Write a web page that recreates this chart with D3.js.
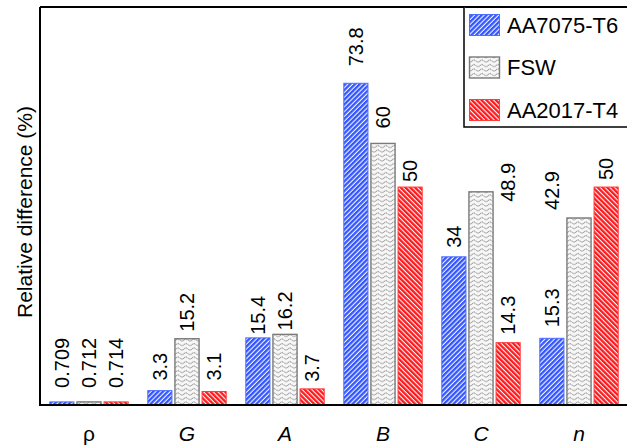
<!DOCTYPE html>
<html>
<head>
<meta charset="utf-8">
<script src="https://cdn.jsdelivr.net/npm/d3@7"></script>
<style>
  html, body { margin: 0; padding: 0; background: #fff; }
  svg { display: block; font-family: "Liberation Sans", Arial, sans-serif; }
</style>
</head>
<body>
<svg id="chart" width="627" height="445"></svg>
<script>
// Properties compared across the three material conditions
const categories = ["ρ", "G", "A", "B", "C", "n"];
const seriesNames = ["AA7075-T6", "FSW", "AA2017-T4"];

// Relative difference (%) per property
const aa7075 = [0.709, 3.3, 15.4, 73.8, 34, 15.3];
const fsw    = [0.712, 15.2, 16.2, 60, 48.9, 42.9];
const aa2017 = [0.714, 3.1, 3.7, 50, 14.3, 50];

const seriesValues = [aa7075, fsw, aa2017];

// Value label placement: column shift (in bars) and lift above the bar top (px)
const labelShift = [
  [0, 0, 0, 0, 0, 0],
  [0, 0, 0, 0, 1, -1],
  [0, 0, 0, 0, 0, 0]
];
const labelLift = [
  [14, 10, 3, 17, 9, 11],
  [14, 7, 4, 15, -10, 8],
  [14, 11, 7, 5, 8, 7]
];

const svg = d3.select("#chart");
const plotLeft = 40, plotTop = 7, plotBottom = 405, plotRight = 628;

const x0 = d3.scaleBand().domain(categories).range([plotLeft, plotRight])
  .paddingInner(0.2).paddingOuter(0.1);
const x1 = d3.scaleBand().domain(seriesNames).range([0, x0.bandwidth()])
  .paddingInner(0.11);
const y = d3.scaleLinear().domain([0, 91.3]).range([plotBottom, plotTop]);

// Fill patterns
const defs = svg.append("defs");
function stripes(id, color, angle) {
  const p = defs.append("pattern").attr("id", id)
    .attr("patternUnits", "userSpaceOnUse")
    .attr("width", 3.4).attr("height", 3.4)
    .attr("patternTransform", `rotate(${angle})`);
  p.append("rect").attr("width", 3.4).attr("height", 3.4).attr("fill", "#f4f6ff");
  p.append("rect").attr("width", 2.3).attr("height", 3.4).attr("fill", color);
}
stripes("pat-blue", "#3356ff", 45);
stripes("pat-red", "#ff1a1a", -45);
const wave = defs.append("pattern").attr("id", "pat-gray")
  .attr("patternUnits", "userSpaceOnUse")
  .attr("width", 8).attr("height", 4.5);
wave.append("rect").attr("width", 8).attr("height", 4.5).attr("fill", "#f7f7f7");
wave.append("path")
  .attr("d", "M0 2.6 Q2 0.6 4 2.6 T8 2.6")
  .attr("fill", "none").attr("stroke", "#5e5e5e").attr("stroke-width", 0.9)
  .attr("stroke-dasharray", "1.4 0.6");

const fills = ["url(#pat-blue)", "url(#pat-gray)", "url(#pat-red)"];
const strokes = ["#4d6dff", "#7a7a7a", "#ff3a3a"];
const strokeWidths = [1, 1.4, 1];

// Bars
seriesNames.forEach((name, si) => {
  svg.append("g").selectAll("rect")
    .data(seriesValues[si].map((v, ci) => ({ cat: categories[ci], v })))
    .join("rect")
    .attr("x", d => x0(d.cat) + x1(name))
    .attr("y", d => y(d.v))
    .attr("width", x1.bandwidth())
    .attr("height", d => plotBottom - y(d.v))
    .attr("fill", fills[si])
    .attr("stroke", strokes[si])
    .attr("stroke-width", strokeWidths[si]);
});

// Value labels, rotated to read upward
seriesNames.forEach((name, si) => {
  svg.append("g").selectAll("text")
    .data(seriesValues[si].map((v, ci) => ({ cat: categories[ci], v, ci })))
    .join("text")
    .attr("transform", d => {
      const col = seriesNames[si + labelShift[si][d.ci]];
      const cx = x0(d.cat) + x1(col) + x1.bandwidth() / 2;
      const cy = y(d.v) - labelLift[si][d.ci];
      return `translate(${cx},${cy}) rotate(-90)`;
    })
    .attr("dy", "0.35em")
    .attr("text-anchor", "start")
    .attr("font-size", 20)
    .attr("fill", "#000")
    .text(d => String(d.v));
});

// Frame: left, top and bottom lines
const frame = svg.append("g").attr("stroke", "#000").attr("stroke-width", 2).attr("fill", "none");
frame.append("path").attr("d", `M${plotLeft},${plotTop} V${plotBottom} H${plotRight}`);
frame.append("path").attr("d", `M${plotLeft},${plotTop} H${plotRight}`);

// Category axis
const xAxis = svg.append("g").attr("transform", `translate(0,${plotBottom})`)
  .call(d3.axisBottom(x0).tickSize(0).tickPadding(21));
xAxis.select(".domain").remove();
xAxis.selectAll("text")
  .attr("font-size", 21)
  .attr("font-family", "'Liberation Sans', Arial, sans-serif")
  .attr("fill", "#000")
  .attr("font-style", d => d === "ρ" ? "normal" : "italic");

// Y axis title
svg.append("text")
  .attr("transform", `translate(32,212) rotate(-90)`)
  .attr("text-anchor", "middle")
  .attr("font-size", 21)
  .attr("fill", "#000")
  .text("Relative difference (%)");

// Legend
const legend = svg.append("g");
legend.append("path").attr("d", `M464,${plotTop} V127 H${plotRight}`)
  .attr("fill", "#fff").attr("stroke", "#000").attr("stroke-width", 1.5);
seriesNames.forEach((name, si) => {
  const cy = 25 + si * 42.5;
  legend.append("rect")
    .attr("x", 469.5).attr("y", cy - 10.5)
    .attr("width", 30).attr("height", 21)
    .attr("fill", fills[si]).attr("stroke", strokes[si]).attr("stroke-width", strokeWidths[si]);
  legend.append("text")
    .attr("x", 507).attr("y", cy)
    .attr("dy", "0.35em")
    .attr("font-size", 22)
    .attr("fill", "#000")
    .text(name);
});
</script>
</body>
</html>
